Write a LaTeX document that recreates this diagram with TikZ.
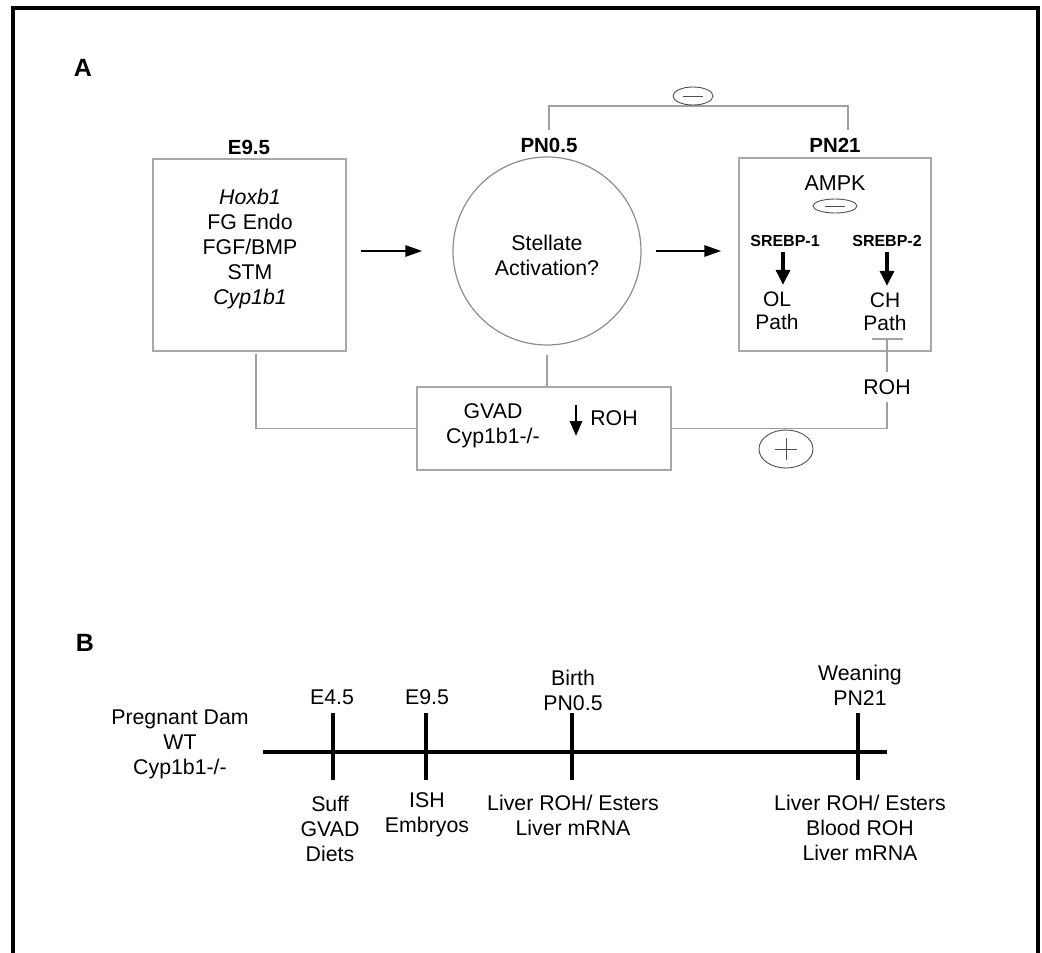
\documentclass[tikz,border=0pt]{standalone}
\usepackage{fontspec}
\setmainfont{Liberation Sans}
\usetikzlibrary{arrows.meta,shapes.geometric,calc}
\definecolor{boxgray}{HTML}{A8A8A8}
\definecolor{linegray}{HTML}{A0A0A0}
\definecolor{circgray}{HTML}{8C8C8C}
\definecolor{ellgray}{HTML}{505050}
\begin{document}
\begin{tikzpicture}[x=1pt,y=-1pt,
  txt/.style={font=\fontsize{21.3}{25}\selectfont, inner sep=0pt, align=center},
  txtb/.style={font=\fontsize{21}{23}\selectfont, inner sep=0pt, align=center},
  hdr/.style={font=\bfseries\fontsize{20.5}{25}\selectfont, inner sep=0pt},
  panel/.style={font=\bfseries\fontsize{25}{30}\selectfont, inner sep=0pt},
  sm/.style={font=\bfseries\fontsize{16}{18}\selectfont, inner sep=0pt},
  box/.style={draw=boxgray, line width=1.2pt, inner sep=0pt},
  conn/.style={draw=linegray, line width=1.2pt},
  sign/.style={ellipse, draw=ellgray, line width=0.9pt, inner sep=0pt},
  signline/.style={draw=ellgray, line width=0.9pt},
  bigarrow/.style={line width=2.8pt, -{Triangle[length=17pt,width=11pt]}},
  darrow/.style={line width=3.1pt, -{Triangle[length=15pt,width=14pt]}},
  tline/.style={line width=3.4pt}]
\useasboundingbox (0,0) rectangle (1042,953);
% frame
\draw[line width=4pt, line join=miter] (13,1000) -- (13,8) -- (1038,8) -- (1038,1000);

% panel labels
\node[panel] (pA) at (83,68) {A};
\node[panel] (pB) at (85,643) {B};

% E9.5
\node[hdr] (h95) at (249,147) {E9.5};
\node[box, minimum width=193pt, minimum height=192pt] (e95box) at (249.5,255) {};
\node[txt] (e95txt) at (250,249) {\textit{Hoxb1}\\FG Endo\\FGF/BMP\\STM\\\textit{Cyp1b1}};

% PN0.5
\node[hdr] (h05) at (549,145) {PN0.5};
\node[circle, draw=circgray, line width=1.2pt, minimum size=188pt, inner sep=0pt] (circ) at (547,251) {};
\node[txt] (stel) at (547,255) {Stellate\\Activation?};

% PN21
\node[hdr] (h21) at (835,145) {PN21};
\node[box, minimum width=192pt, minimum height=193pt] (pn21box) at (835,254.5) {};
\node[txt, font=\fontsize{21.5}{25}\selectfont] (ampk) at (835,183) {AMPK};
\node[sign, minimum width=44pt, minimum height=14pt] (neg2) at (835,206) {};
\draw[signline] ([xshift=-10pt]neg2.center) -- ([xshift=10pt]neg2.center);
\node[sm] (s1) at (785,241) {SREBP-1};
\node[sm] (s2) at (887,241) {SREBP-2};
\node[txtb] (ol) at (777,311) {OL\\Path};
\node[txtb] (ch) at (885,312) {CH\\Path};
\draw[darrow, shorten <=5.5pt, shorten >=7pt] ([xshift=-2pt]s1.south) -- ([xshift=-2pt]s1.south |- ol.north);
\draw[darrow, shorten <=5.5pt, shorten >=7pt] (s2.south) -- (s2.south |- ch.north);

% horizontal arrows
\draw[bigarrow, shorten <=14pt, shorten >=30pt] (e95box.east |- circ.center) -- (circ.west);
\draw[bigarrow, shorten <=14pt, shorten >=17pt] (circ.east) -- (circ.east -| pn21box.west);

% top inhibition connector
\coordinate (tl) at (549,130);
\coordinate (tr) at (848,130);
\coordinate (topy) at (0,106);
\draw[conn] (tl) -- (tl |- topy) -- (tr |- topy) -- (tr);
\node[sign, fill=white, minimum width=40pt, minimum height=18pt] (neg1) at (693,96) {};
\draw[signline] ([xshift=-10pt]neg1.center) -- ([xshift=10pt]neg1.center);

% GVAD box
\node[box, minimum width=254pt, minimum height=83pt] (gvad) at (544,428.5) {};
\node[txt] (gtxt) at (493,426) {GVAD\\Cyp1b1-/-};
\node[txt] (rohin) at (614,418) {ROH};
\draw[darrow, line width=2.7pt, -{Triangle[length=15pt,width=12pt]}] ([xshift=-38pt,yshift=13pt]rohin.center) -- ++(0,31);

% connectors to GVAD
\draw[conn, shorten <=9pt] (circ.south) -- (circ.south |- gvad.north);
\draw[conn, shorten <=2pt] ([xshift=6.5pt]e95box.south) |- (gvad.west);

% right ROH connector
\node[txt, inner ysep=7pt] (rohR) at (887,387) {ROH};
\coordinate (bar) at (887,339);
\draw[conn] (gvad.east) -| (rohR.south);
\draw[conn] (rohR.north) -- (bar);
\draw[conn] ([xshift=-15.5pt]bar) -- ([xshift=15.5pt]bar);
\node[sign, minimum width=54pt, minimum height=38pt] (pos) at (786,449) {};
\draw[signline] ([xshift=-11pt]pos.center) -- ([xshift=11pt]pos.center);
\draw[signline] ([yshift=-11pt]pos.center) -- ([yshift=11pt]pos.center);

% ---------- Panel B timeline ----------
\coordinate (ts) at (263,752);
\coordinate (te) at (887,752);
\draw[tline] (ts) -- (te);
\coordinate (k1) at (333,752);
\coordinate (k2) at (426,752);
\coordinate (k3) at (572,752);
\coordinate (k4) at (858,752);
\foreach \k in {k1,k2,k3,k4}{
  \draw[tline] (\k) ++(0,-39) -- ++(0,67);
}
\node[txt] (dam) at (180,744) {Pregnant Dam\\WT\\Cyp1b1-/-};
\node[txt] (e45) at (332,697) {E4.5};
\node[txt] (e95t) at (427,697) {E9.5};
\node[txt] (birth) at (573,690) {Birth\\PN0.5};
\node[txt] (wean) at (860,685) {Weaning\\PN21};
\node[txt] (suff) at (330,829) {Suff\\GVAD\\Diets};
\node[txt] (ish) at (427,815) {ISH\\Embryos};
\node[txt] (liv1) at (573,815) {Liver ROH/ Esters\\Liver mRNA};
\node[txt] (liv2) at (860,828) {Liver ROH/ Esters\\Blood ROH\\Liver mRNA};
\end{tikzpicture}
\end{document}
